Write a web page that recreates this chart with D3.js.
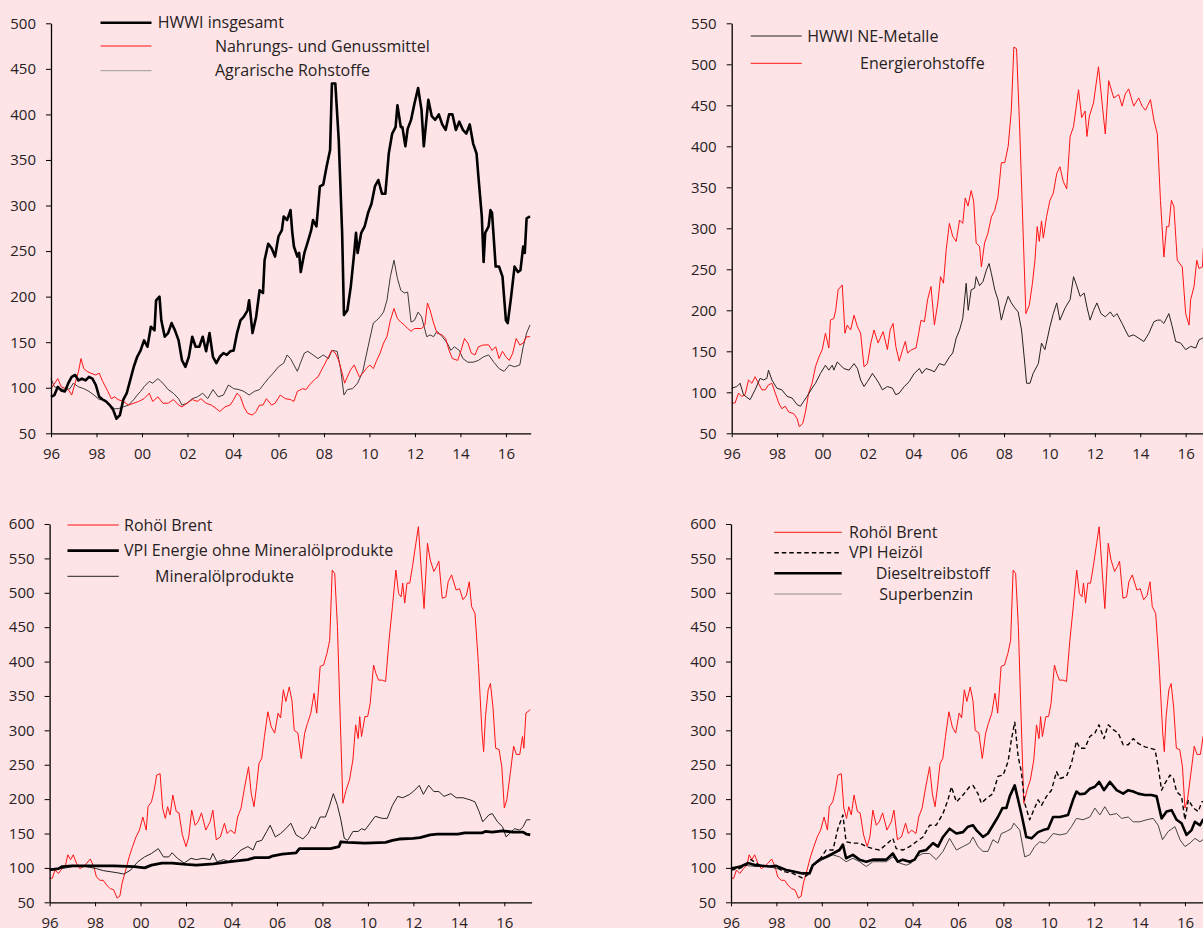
<!DOCTYPE html>
<html>
<head>
<meta charset="utf-8">
<script src="https://cdn.jsdelivr.net/npm/d3@7"></script>
<style>
  body { margin: 0; background: #FFE4E7; }
  svg { display: block; font-family: "Open Sans", sans-serif; }
</style>
</head>
<body>
<div id="chart"></div>
<script>
// ---- tick labels ----
const yearTicks = [1996, 1998, 2000, 2002, 2004, 2006, 2008, 2010, 2012, 2014, 2016]
const ticks500 = [50, 100, 150, 200, 250, 300, 350, 400, 450, 500]
const ticks550 = [50, 100, 150, 200, 250, 300, 350, 400, 450, 500, 550]
const ticks600 = [50, 100, 150, 200, 250, 300, 350, 400, 450, 500, 550, 600]

// ---- panel 1: HWWI insgesamt ----
const hwwiDates = [
  1996.00,1996.15,1996.30,1996.45,1996.61,1996.76,1996.91,1997.06,1997.21,1997.36,
  1997.52,1997.67,1997.82,1997.97,1998.12,1998.27,1998.42,1998.58,1998.73,1998.88,
  1999.03,1999.18,1999.33,1999.48,1999.64,1999.79,1999.94,2000.09,2000.24,2000.39,
  2000.55,2000.62,2000.77,2000.85,2001.00,2001.15,2001.30,2001.45,2001.61,2001.76,
  2001.91,2002.06,2002.21,2002.36,2002.52,2002.67,2002.82,2002.97,2003.12,2003.27,
  2003.42,2003.58,2003.73,2003.88,2004.03,2004.18,2004.33,2004.48,2004.64,2004.71,
  2004.86,2005.02,2005.17,2005.32,2005.39,2005.55,2005.70,2005.85,2006.00,2006.15,
  2006.23,2006.38,2006.53,2006.61,2006.68,2006.83,2006.91,2006.98,2007.14,2007.29,
  2007.44,2007.52,2007.67,2007.82,2007.97,2008.12,2008.27,2008.35,2008.50,2008.65,
  2008.80,2008.88,2009.03,2009.18,2009.33,2009.41,2009.48,2009.64,2009.79,2009.94,
  2010.09,2010.24,2010.39,2010.55,2010.70,2010.85,2011.00,2011.15,2011.23,2011.38,
  2011.45,2011.58,2011.68,2011.83,2011.98,2012.14,2012.29,2012.39,2012.59,2012.74,
  2012.89,2013.05,2013.20,2013.35,2013.50,2013.65,2013.80,2013.95,2014.11,2014.26,
  2014.41,2014.56,2014.71,2014.79,2014.94,2015.02,2015.09,2015.24,2015.32,2015.39,
  2015.55,2015.70,2015.85,2016.00,2016.08,2016.23,2016.38,2016.53,2016.64,2016.76,
  2016.83,2016.91,2017.06]
const hwwiValues = [
  90,92,101,97,96,105,112,114,108,110,
  108,112,110,103,90,87,85,81,76,66,
  70,87,94,108,123,134,141,152,145,167,
  163,196,200,174,156,160,171,163,152,130,
  123,134,156,145,145,156,140,160,134,127,
  134,138,136,140,141,160,174,178,185,196,
  160,178,207,204,240,258,253,244,266,273,
  288,284,295,270,255,244,248,227,248,260,
  273,284,277,321,323,343,361,434,434,372,
  270,180,185,211,248,270,248,270,277,292,
  302,321,328,313,313,357,379,386,410,386,
  386,365,384,394,412,429,405,365,416,398,
  394,400,389,383,400,400,383,392,383,379,
  389,368,357,332,288,238,270,277,295,292,
  233,233,222,174,171,200,233,227,229,255,
  248,286,288]

// Nahrungs- und Genussmittel
const foodDates = [
  1996.00,1996.30,1996.45,1996.76,1996.91,1997.06,1997.21,1997.32,1997.44,1997.59,
  1997.74,1997.97,1998.12,1998.27,1998.50,1998.65,1998.80,1998.95,1999.18,1999.41,
  1999.64,1999.86,2000.09,2000.32,2000.47,2000.70,2000.92,2001.15,2001.38,2001.61,
  2001.76,2001.98,2002.21,2002.44,2002.59,2002.82,2003.05,2003.27,2003.42,2003.65,
  2003.88,2004.03,2004.18,2004.33,2004.48,2004.64,2004.86,2005.02,2005.17,2005.32,
  2005.47,2005.70,2005.85,2006.08,2006.30,2006.53,2006.68,2006.83,2007.06,2007.21,
  2007.36,2007.59,2007.74,2007.97,2008.20,2008.35,2008.50,2008.65,2008.80,2008.91,
  2009.03,2009.18,2009.33,2009.45,2009.56,2009.71,2009.86,2010.02,2010.17,2010.32,
  2010.47,2010.62,2010.77,2010.92,2011.08,2011.23,2011.38,2011.53,2011.68,2011.83,
  2011.98,2012.29,2012.44,2012.55,2012.67,2012.82,2012.97,2013.20,2013.35,2013.50,
  2013.65,2013.88,2014.03,2014.18,2014.33,2014.48,2014.64,2014.79,2015.02,2015.24,
  2015.39,2015.55,2015.70,2015.85,2016.00,2016.15,2016.30,2016.45,2016.61,2016.76,
  2016.91,2017.06]
const foodValues = [
  99,110,101,98,92,105,118,132,121,118,
  116,114,116,107,96,88,90,87,85,81,
  83,85,88,94,85,90,83,83,87,81,
  79,83,87,85,88,83,81,77,74,79,
  81,87,94,90,79,72,70,74,81,81,
  88,81,83,92,88,87,85,96,99,98,
  103,109,112,123,134,141,138,130,116,105,
  112,120,125,118,112,116,121,125,121,130,
  138,149,156,174,187,176,172,169,165,162,
  165,165,169,193,185,171,160,158,154,141,
  132,130,141,154,149,138,136,145,147,147,
  141,145,132,140,134,130,138,154,147,149,
  156,156]

// Agrarische Rohstoffe
const agrarDates = [
  1996.00,1996.15,1996.38,1996.61,1996.83,1996.98,1997.21,1997.44,1997.67,1997.89,
  1998.12,1998.35,1998.58,1998.80,1998.95,1999.18,1999.41,1999.64,1999.79,1999.94,
  2000.09,2000.32,2000.47,2000.70,2000.92,2001.15,2001.38,2001.61,2001.76,2001.98,
  2002.21,2002.44,2002.67,2002.89,2003.12,2003.35,2003.58,2003.80,2004.03,2004.26,
  2004.48,2004.71,2004.94,2005.17,2005.39,2005.55,2005.77,2006.00,2006.23,2006.38,
  2006.53,2006.68,2006.83,2006.98,2007.14,2007.29,2007.52,2007.74,2007.97,2008.20,
  2008.35,2008.58,2008.73,2008.88,2009.03,2009.26,2009.48,2009.71,2009.94,2010.17,
  2010.32,2010.47,2010.62,2010.77,2010.92,2011.08,2011.23,2011.38,2011.53,2011.68,
  2011.83,2011.98,2012.14,2012.29,2012.52,2012.67,2012.82,2012.97,2013.20,2013.42,
  2013.58,2013.73,2013.95,2014.11,2014.33,2014.56,2014.79,2015.02,2015.24,2015.47,
  2015.70,2015.92,2016.15,2016.38,2016.61,2016.76,2016.91,2017.06]
const agrarValues = [
  110,101,99,98,99,105,101,99,96,92,
  87,87,81,77,77,79,81,87,92,96,
  101,107,105,110,105,98,94,88,81,83,
  88,90,94,88,98,90,92,103,99,98,
  96,92,96,98,105,110,116,123,127,136,
  132,125,118,128,138,140,136,132,136,132,
  141,140,121,92,98,99,105,118,145,171,
  174,178,183,196,222,240,220,207,204,205,
  172,174,183,178,156,158,156,162,156,149,
  141,145,141,132,128,128,130,134,136,128,
  121,118,125,123,125,145,160,169]

// ---- panel 2: HWWI NE-Metalle / Energierohstoffe ----
const metalDates = [
  1996.00,1996.22,1996.37,1996.52,1996.81,1997.03,1997.25,1997.40,1997.55,1997.62,
  1997.77,1997.99,1998.21,1998.44,1998.66,1998.88,1999.03,1999.17,1999.32,1999.54,
  1999.69,1999.91,2000.13,2000.28,2000.43,2000.50,2000.65,2000.80,2000.94,2001.17,
  2001.39,2001.54,2001.68,2001.83,2001.98,2002.20,2002.35,2002.49,2002.64,2002.86,
  2003.08,2003.23,2003.38,2003.60,2003.82,2004.04,2004.27,2004.38,2004.56,2004.78,
  2004.93,2005.15,2005.37,2005.59,2005.74,2005.89,2006.04,2006.18,2006.33,2006.42,
  2006.55,2006.70,2006.77,2006.92,2007.07,2007.22,2007.34,2007.44,2007.59,2007.73,
  2007.88,2008.03,2008.18,2008.32,2008.47,2008.62,2008.77,2008.92,2008.99,2009.14,
  2009.28,2009.51,2009.65,2009.80,2010.02,2010.17,2010.32,2010.46,2010.69,2010.91,
  2011.06,2011.20,2011.35,2011.53,2011.65,2011.79,2011.94,2012.09,2012.27,2012.46,
  2012.68,2012.83,2012.97,2013.20,2013.34,2013.49,2013.71,2013.93,2014.16,2014.38,
  2014.60,2014.75,2014.89,2015.04,2015.26,2015.41,2015.56,2015.78,2016.00,2016.22,
  2016.44,2016.59,2016.74,2016.96,2017.06]
const metalValues = [
  105,107,111,97,91,103,117,115,117,127,
  115,105,103,95,93,85,83,89,95,105,
  111,123,133,127,133,127,137,133,129,127,
  135,129,115,107,113,123,117,111,103,107,
  105,97,99,107,113,123,129,123,129,127,
  125,135,133,143,148,166,176,190,233,200,
  225,227,241,230,235,249,257,245,225,213,
  188,204,217,209,203,198,176,133,111,111,
  123,135,160,152,180,196,209,188,203,213,
  241,230,217,221,204,188,200,209,196,192,
  198,192,196,184,176,168,170,166,162,172,
  186,188,188,184,196,180,162,160,152,156,
  154,164,166,168,170]

const energyDates = [
  1996.00,1996.15,1996.30,1996.44,1996.59,1996.74,1996.89,1997.03,1997.18,1997.33,
  1997.48,1997.62,1997.77,1997.92,1998.07,1998.21,1998.36,1998.51,1998.73,1998.88,
  1998.98,1999.13,1999.25,1999.39,1999.54,1999.69,1999.84,1999.99,2000.13,2000.28,
  2000.35,2000.50,2000.58,2000.69,2000.87,2000.99,2001.09,2001.24,2001.39,2001.54,
  2001.68,2001.83,2001.98,2002.13,2002.27,2002.45,2002.67,2002.86,2002.98,2003.11,
  2003.23,2003.38,2003.53,2003.65,2003.75,2003.93,2004.12,2004.24,2004.34,2004.49,
  2004.63,2004.78,2004.93,2005.08,2005.20,2005.33,2005.45,2005.59,2005.74,2005.89,
  2006.04,2006.18,2006.29,2006.41,2006.55,2006.66,2006.77,2006.92,2007.00,2007.14,
  2007.29,2007.44,2007.59,2007.73,2007.88,2008.03,2008.18,2008.32,2008.43,2008.55,
  2008.69,2008.84,2008.96,2009.11,2009.25,2009.36,2009.46,2009.55,2009.65,2009.73,
  2009.87,2010.02,2010.17,2010.32,2010.46,2010.61,2010.76,2010.91,2011.06,2011.28,
  2011.42,2011.57,2011.65,2011.76,2011.94,2012.16,2012.35,2012.46,2012.61,2012.83,
  2013.05,2013.20,2013.34,2013.49,2013.71,2013.93,2014.08,2014.23,2014.45,2014.60,
  2014.75,2014.89,2015.04,2015.16,2015.26,2015.37,2015.48,2015.63,2015.85,2016.00,
  2016.15,2016.22,2016.37,2016.49,2016.59,2016.74,2016.80,2016.96,2017.06]
const energyValues = [
  87,87,99,95,97,115,111,119,111,103,
  103,109,111,99,87,80,83,76,74,68,
  58,62,76,99,111,131,143,152,172,154,
  188,190,200,225,231,172,182,176,194,180,
  172,131,135,160,176,160,174,152,176,184,
  156,138,152,162,148,152,154,172,188,186,
  213,229,182,209,241,233,274,306,290,284,
  310,306,337,327,346,333,282,278,253,282,
  294,314,322,338,380,380,400,444,521,519,
  420,294,196,206,233,261,302,284,309,288,
  314,334,343,367,375,357,348,412,424,469,
  435,443,412,437,453,497,444,415,480,459,
  463,449,464,470,449,459,449,444,457,432,
  415,334,265,302,302,334,327,261,253,196,
  182,213,229,261,251,253,286,294,290]

// ---- panels 3 + 4: Rohöl Brent ----
const brentDates = [
  1996.00,1996.12,1996.24,1996.39,1996.55,1996.70,1996.80,1996.92,1997.04,1997.18,
  1997.33,1997.48,1997.64,1997.79,1997.94,1998.06,1998.21,1998.36,1998.51,1998.66,
  1998.82,1998.97,1999.09,1999.19,1999.35,1999.50,1999.65,1999.80,1999.95,2000.10,
  2000.25,2000.33,2000.48,2000.60,2000.71,2000.86,2000.97,2001.09,2001.19,2001.30,
  2001.42,2001.57,2001.69,2001.84,2002.00,2002.12,2002.25,2002.40,2002.53,2002.68,
  2002.87,2003.06,2003.18,2003.33,2003.51,2003.69,2003.81,2003.96,2004.15,2004.27,
  2004.42,2004.57,2004.75,2004.87,2004.99,2005.10,2005.21,2005.33,2005.45,2005.60,
  2005.75,2005.90,2006.05,2006.16,2006.28,2006.39,2006.54,2006.66,2006.76,2006.92,
  2007.07,2007.22,2007.34,2007.49,2007.63,2007.75,2007.90,2008.05,2008.20,2008.32,
  2008.43,2008.54,2008.66,2008.78,2008.90,2009.04,2009.19,2009.34,2009.46,2009.57,
  2009.64,2009.72,2009.87,2009.99,2010.10,2010.25,2010.35,2010.47,2010.63,2010.78,
  2010.93,2011.08,2011.23,2011.35,2011.46,2011.53,2011.62,2011.72,2011.84,2011.96,
  2012.11,2012.22,2012.37,2012.47,2012.62,2012.74,2012.90,2013.02,2013.12,2013.27,
  2013.43,2013.53,2013.68,2013.88,2014.03,2014.18,2014.33,2014.46,2014.56,2014.71,
  2014.86,2015.02,2015.09,2015.17,2015.29,2015.39,2015.50,2015.62,2015.77,2015.89,
  2016.00,2016.11,2016.26,2016.41,2016.53,2016.68,2016.80,2016.86,2016.95,2017.14]
const brentValues = [
  85,85,97,92,99,104,119,112,119,107,
  99,102,107,113,102,87,82,82,75,70,
  68,56,59,78,97,116,131,145,155,174,
  155,189,196,213,235,237,187,172,189,177,
  206,182,180,148,131,145,184,162,167,180,
  155,167,184,141,145,165,150,155,150,174,
  187,216,247,208,189,218,252,259,291,327,
  305,296,325,318,359,342,363,343,300,296,
  259,296,310,325,354,325,393,395,412,431,
  533,528,451,320,194,213,228,257,308,288,
  320,291,320,320,339,395,383,373,373,371,
  431,480,533,499,494,514,485,514,514,538,
  572,596,523,477,572,548,531,538,546,492,
  494,516,526,504,506,490,496,516,480,470,
  397,296,269,320,359,368,334,274,272,247,
  187,199,237,277,265,265,291,274,325,330]

// VPI Energie ohne Mineralölprodukte
const vpiEnergyDates = [
  1996.00,1996.39,1996.55,1997.00,1998.06,1998.82,1999.72,2000.18,2000.48,2000.94,
  2001.39,2002.00,2002.45,2003.21,2003.96,2004.72,2005.02,2005.63,2005.78,2006.23,
  2006.84,2006.99,2007.45,2008.35,2008.73,2008.81,2009.11,2009.87,2010.78,2011.08,
  2011.38,2011.99,2012.29,2012.74,2013.05,2013.96,2014.26,2015.02,2015.17,2015.47,
  2015.92,2016.38,2016.83,2016.98,2017.14]
const vpiEnergyValues = [
  97,99,102,103,103,103,102,100,104,107,
  107,105,104,106,109,112,115,115,117,120,
  122,128,128,128,131,138,137,136,137,140,
  142,143,144,148,149,149,151,151,153,152,
  154,152,152,149,148]

// Mineralölprodukte
const oilProdDates = [
  1996.00,1996.55,1997.00,1997.60,1998.06,1998.36,1998.97,1999.27,1999.57,1999.88,
  2000.18,2000.48,2000.78,2001.01,2001.24,2001.39,2001.62,2001.92,2002.22,2002.45,
  2002.75,2003.06,2003.18,2003.36,2003.66,2003.89,2004.12,2004.42,2004.72,2004.95,
  2005.10,2005.33,2005.55,2005.70,2005.93,2006.16,2006.39,2006.61,2006.84,2006.99,
  2007.14,2007.37,2007.52,2007.67,2007.90,2008.13,2008.28,2008.48,2008.66,2008.81,
  2008.96,2009.11,2009.34,2009.57,2009.72,2009.87,2010.10,2010.32,2010.63,2010.85,
  2011.08,2011.31,2011.53,2011.84,2012.06,2012.26,2012.44,2012.67,2012.90,2013.12,
  2013.35,2013.65,2013.88,2014.18,2014.49,2014.71,2014.89,2015.05,2015.32,2015.47,
  2015.70,2015.92,2016.08,2016.23,2016.45,2016.68,2016.83,2016.98,2017.14]
const oilProdValues = [
  99,99,102,102,99,96,93,91,97,109,
  116,121,128,116,116,122,114,107,114,112,
  114,112,121,109,112,109,116,126,131,126,
  138,140,153,162,145,150,157,165,148,145,
  142,150,160,157,174,174,187,208,191,170,
  143,140,153,153,157,155,165,175,172,172,
  191,204,202,207,213,220,207,220,211,211,
  204,208,202,202,199,196,182,167,177,179,
  167,160,145,150,157,155,160,170,170]

// ---- panel 4: VPI Heizöl / Dieseltreibstoff / Superbenzin ----
const heatingDates = [
  1996.00,1996.37,1996.66,1996.88,1997.25,1997.69,1997.99,1998.28,1998.72,1999.16,
  1999.38,1999.60,1999.90,2000.19,2000.49,2000.71,2000.93,2001.07,2001.37,2001.66,
  2001.96,2002.25,2002.54,2002.84,2003.13,2003.28,2003.57,2003.87,2004.16,2004.46,
  2004.75,2005.04,2005.34,2005.56,2005.71,2005.93,2006.22,2006.51,2006.66,2006.88,
  2007.03,2007.25,2007.54,2007.76,2007.99,2008.21,2008.35,2008.50,2008.65,2008.79,
  2008.94,2009.16,2009.31,2009.53,2009.68,2009.90,2010.12,2010.34,2010.49,2010.78,
  2011.00,2011.22,2011.37,2011.59,2011.81,2012.03,2012.21,2012.43,2012.62,2012.84,
  2013.06,2013.28,2013.50,2013.72,2013.94,2014.24,2014.46,2014.68,2014.82,2014.97,
  2015.12,2015.34,2015.49,2015.63,2015.85,2016.00,2016.15,2016.37,2016.59,2016.74,
  2017.10]
const heatingValues = [
  97,99,104,112,104,102,102,95,92,85,
  90,102,112,126,126,157,177,138,136,136,
  131,128,126,134,143,128,126,131,138,145,
  162,162,179,199,218,196,206,218,220,208,
  194,201,208,233,235,255,286,312,262,240,
  194,170,182,199,191,204,213,240,230,233,
  252,284,274,274,291,296,308,288,308,301,
  296,279,279,288,281,276,274,272,247,213,
  223,235,230,211,204,170,199,187,182,196,
  199]

const dieselDates = [
  1996.00,1996.44,1996.74,1997.10,1997.69,1997.99,1998.43,1999.16,1999.46,1999.60,
  1999.90,2000.19,2000.49,2000.78,2000.93,2001.07,2001.37,2001.66,2001.96,2002.25,
  2002.54,2002.84,2003.13,2003.35,2003.57,2003.87,2004.09,2004.31,2004.60,2004.90,
  2005.12,2005.34,2005.63,2005.93,2006.22,2006.44,2006.66,2006.81,2007.10,2007.32,
  2007.54,2007.76,2007.96,2008.13,2008.28,2008.50,2008.65,2008.79,2009.01,2009.24,
  2009.53,2009.75,2009.97,2010.19,2010.49,2010.85,2011.07,2011.22,2011.37,2011.59,
  2011.81,2012.03,2012.22,2012.43,2012.69,2012.99,2013.28,2013.50,2013.72,2013.94,
  2014.24,2014.53,2014.75,2014.97,2015.19,2015.41,2015.63,2015.85,2016.07,2016.29,
  2016.44,2016.66,2016.79,2017.10]
const dieselValues = [
  99,102,107,104,102,103,97,92,92,104,
  112,116,121,126,134,114,119,112,109,112,
  112,112,121,109,112,109,112,124,126,136,
  131,145,157,150,152,160,162,155,145,150,
  162,174,187,187,204,220,199,179,145,143,
  152,155,157,174,174,177,199,211,207,208,
  215,218,225,213,225,213,208,213,211,208,
  206,206,204,172,182,184,170,165,148,155,
  167,162,170,172]

const petrolDates = [
  1996.00,1996.51,1997.10,1997.69,1997.99,1998.57,1999.16,1999.46,1999.60,2000.04,
  2000.49,2000.78,2001.07,2001.37,2001.66,2001.96,2002.25,2002.54,2002.84,2003.13,
  2003.43,2003.72,2003.94,2004.16,2004.46,2004.75,2005.04,2005.34,2005.63,2005.93,
  2006.22,2006.51,2006.66,2006.88,2007.10,2007.32,2007.54,2007.76,2007.91,2008.13,
  2008.35,2008.46,2008.72,2008.94,2009.16,2009.38,2009.60,2009.82,2009.97,2010.19,
  2010.49,2010.78,2011.00,2011.22,2011.51,2011.81,2012.03,2012.25,2012.47,2012.69,
  2012.99,2013.21,2013.50,2013.72,2014.01,2014.31,2014.60,2014.82,2015.01,2015.26,
  2015.56,2015.78,2016.00,2016.22,2016.44,2016.66,2016.79,2017.10]
const petrolValues = [
  99,104,102,102,99,97,92,93,104,112,
  119,116,109,114,109,102,109,109,109,116,
  107,104,107,116,121,121,112,124,143,126,
  131,136,145,131,124,124,141,136,150,153,
  157,165,155,116,119,131,138,136,141,150,
  148,150,160,172,170,174,187,177,189,177,
  179,172,174,167,167,170,172,162,141,153,
  160,141,131,136,143,138,141,145]

// ---- drawing ----
const W = 1203, H = 928
const RED = '#ff1414'
const TEXT = '#262223'

const svg = d3.select('#chart').append('svg')
  .attr('width', W)
  .attr('height', H)

svg.append('rect').attr('width', W).attr('height', H).attr('fill', '#FFE4E7')

function drawPanel(p) {
  const x = d3.scaleLinear().domain([1996, p.end]).range([p.left, p.right])
  const y = d3.scaleLinear().domain([50, p.yMax]).range([p.bottom, p.top])
  const g = svg.append('g')

  const line = d3.line()
    .x(d => x(d[0]))
    .y(d => y(d[1]))

  p.series.forEach(s => {
    g.append('path')
      .datum(d3.zip(s.dates, s.values))
      .attr('fill', 'none')
      .attr('stroke', s.color)
      .attr('stroke-width', s.width)
      .attr('stroke-dasharray', s.dash || null)
      .attr('stroke-linejoin', 'round')
      .attr('d', line)
  })

  const yAxis = g.append('g')
    .attr('transform', `translate(${p.left},0)`)
    .call(d3.axisLeft(y).tickValues(p.yTicks).tickSize(5).tickSizeOuter(0).tickPadding(10))
  const xAxis = g.append('g')
    .attr('transform', `translate(0,${p.bottom})`)
    .call(d3.axisBottom(x).tickValues(yearTicks).tickSize(4).tickSizeOuter(0).tickPadding(11)
      .tickFormat(d => String(d).slice(2)))

  ;[yAxis, xAxis].forEach(a => {
    a.attr('font-family', '"Open Sans", sans-serif').attr('font-size', 15)
    a.select('.domain').attr('stroke', '#000').attr('stroke-width', 1.3)
    a.selectAll('.tick line').attr('stroke', '#000').attr('stroke-width', 1)
    a.selectAll('.tick text').attr('fill', TEXT)
  })

  // legend
  p.legend.forEach(l => {
    g.append('line')
      .attr('x1', p.legendX[0]).attr('x2', p.legendX[1])
      .attr('y1', l.y).attr('y2', l.y)
      .attr('stroke', l.s.legendColor || l.s.color)
      .attr('stroke-width', l.s.width)
      .attr('stroke-dasharray', l.s.dash || null)
    g.append('text')
      .attr('x', l.tx).attr('y', l.y).attr('dy', '0.36em')
      .attr('fill', TEXT)
      .style('font-size', '16px')
      .text(l.s.name)
  })
}

const sHwwi = { name: 'HWWI insgesamt', dates: hwwiDates, values: hwwiValues, color: '#000', width: 2.6 }
const sFood = { name: 'Nahrungs- und Genussmittel', dates: foodDates, values: foodValues, color: RED, width: 1 }
const sAgrar = { name: 'Agrarische Rohstoffe', dates: agrarDates, values: agrarValues, color: '#3a3a3a', legendColor: '#999', width: 1 }
const sMetal = { name: 'HWWI NE-Metalle', dates: metalDates, values: metalValues, color: '#222', width: 1 }
const sEnergy = { name: 'Energierohstoffe', dates: energyDates, values: energyValues, color: RED, width: 1 }
const sBrent = { name: 'Rohöl Brent', dates: brentDates, values: brentValues, color: RED, width: 1 }
const sVpi = { name: 'VPI Energie ohne Mineralölprodukte', dates: vpiEnergyDates, values: vpiEnergyValues, color: '#000', width: 2.8 }
const sOil = { name: 'Mineralölprodukte', dates: oilProdDates, values: oilProdValues, color: '#222', width: 1 }
const sHeat = { name: 'VPI Heizöl', dates: heatingDates, values: heatingValues, color: '#000', width: 1.4, dash: '4.5,3' }
const sDiesel = { name: 'Dieseltreibstoff', dates: dieselDates, values: dieselValues, color: '#000', width: 2.6 }
const sPetrol = { name: 'Superbenzin', dates: petrolDates, values: petrolValues, color: '#444', legendColor: '#8a8a8a', width: 1 }

drawPanel({
  left: 51, right: 530.7, end: 2017.09, bottom: 433.3, top: 23.3, yMax: 500, yTicks: ticks500,
  series: [sAgrar, sFood, sHwwi],
  legendX: [100.5, 151.5],
  legend: [{ s: sHwwi, y: 22.7, tx: 157.7 }, { s: sFood, y: 46, tx: 214.9 }, { s: sAgrar, y: 70.7, tx: 214.9 }]
})

drawPanel({
  left: 731.7, right: 1210.4, end: 2017.09, bottom: 433.3, top: 23.3, yMax: 550, yTicks: ticks550,
  series: [sEnergy, sMetal],
  legendX: [750.7, 801.7],
  legend: [{ s: sMetal, y: 36, tx: 807.3 }, { s: sEnergy, y: 63.3, tx: 860 }]
})

drawPanel({
  left: 49.6, right: 531.6, end: 2017.2, bottom: 902.3, top: 524, yMax: 600, yTicks: ticks600,
  series: [sBrent, sOil, sVpi],
  legendX: [67.5, 118.8],
  legend: [{ s: sBrent, y: 525, tx: 124 }, { s: sVpi, y: 550.7, tx: 124 }, { s: sOil, y: 576.3, tx: 155 }]
})

drawPanel({
  left: 731, right: 1212.2, end: 2017.2, bottom: 902.3, top: 524, yMax: 600, yTicks: ticks600,
  series: [sBrent, sPetrol, sHeat, sDiesel],
  legendX: [774.3, 841.7],
  legend: [{ s: sBrent, y: 532.3, tx: 849 }, { s: sHeat, y: 552.7, tx: 849 }, { s: sDiesel, y: 573.3, tx: 875.7 }, { s: sPetrol, y: 594, tx: 879.3 }]
})
</script>
</body>
</html>
